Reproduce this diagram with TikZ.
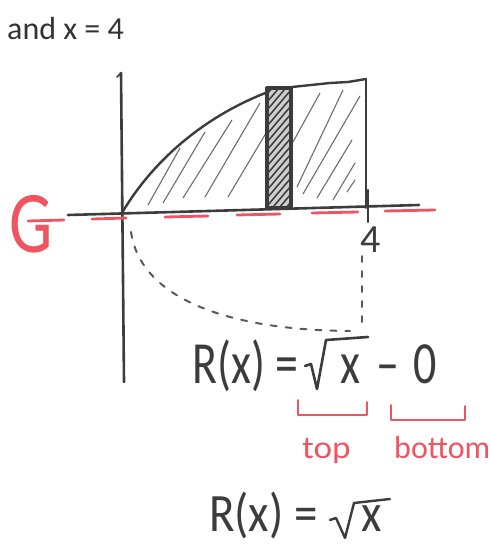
\documentclass[tikz,border=0pt]{standalone}
\usepackage{fontspec}
\setmainfont{Carlito}
\setsansfont{Carlito}
\definecolor{pencil}{HTML}{3C3C3C}
\definecolor{textgrey}{HTML}{333333}
\definecolor{redpen}{HTML}{EE5560}
\begin{document}
\begin{tikzpicture}[x=1pt,y=-1pt,
  pen/.style={draw=pencil,line width=2.6pt,line cap=round,line join=round},
  thinpen/.style={draw=pencil,line width=2pt,line cap=round,line join=round},
  hatch/.style={draw=pencil!75,line width=1.1pt,line cap=round},
  reddash/.style={draw=redpen,line width=2.8pt,line cap=round},
  redpenline/.style={draw=redpen,line width=2pt,line cap=round,line join=round},
  dashcurve/.style={draw=pencil!85,line width=2pt,dash pattern=on 6pt off 9pt,line cap=round},
  handtext/.style={text=pencil,inner sep=0pt},
  bighand/.style={handtext,font=\fontsize{46}{46}\selectfont,yscale=1.3},
  redtext/.style={text=redpen,inner sep=0pt},
]
\useasboundingbox (0,0) rectangle (490,544);
\node[anchor=base west,inner sep=0pt,text=textgrey,font=\fontsize{32}{32}\selectfont] (title) at (7,39) {and x = 4};

% shaded region hatch (left)
\draw[hatch] (148,205) -- (180,148);
\draw[hatch] (163,203) -- (205,132);
\draw[hatch] (183,198) -- (232,120);
\draw[hatch] (205,197) -- (260,103);
\draw[hatch] (228,197) -- (266,133);
% right hatch
\draw[hatch] (293,142) -- (320,93);
\draw[hatch] (297,187) -- (343,90);
\draw[hatch] (303,194) -- (360,96);
\draw[hatch] (317,198) -- (352,140);
\draw[hatch] (333,200) -- (355,163);
\draw[hatch] (347,192) -- (355,180);

% axes
\coordinate (O) at (122,213);
\coordinate (ytop) at (121,73);
\coordinate (ybot) at (124,382);
\coordinate (xl) at (68,215);
\coordinate (xr) at (419,205);
\draw[pen] (ytop) -- (ybot);
\draw[pen] (xl) -- (xr);
\draw[thinpen,line width=1.5pt] (117,77) -- (121,73);

% red dashed line
\foreach \a/\b/\ya/\yb in {28/64/221/220, 92/126/219/218, 165/208/217/216, 237/280/215/214, 312/358/213/212, 385/435/211/210}
  \draw[reddash] (\a,\ya) -- (\b,\yb);
\node[redtext,font=\fontsize{88}{88}\selectfont,anchor=base west,xscale=0.78] (G) at (9,252) {G};

% curve y = sqrt(x)
\coordinate (top1) at (268,92);
\coordinate (topR) at (366,79);
\draw[thinpen,line width=2.4pt] (O) .. controls (150,165) and (200,118) .. (top1) -- (292,87) -- (330,83) -- (348,82) -- (topR);
\draw[thinpen,line width=2pt] (topR) -- (366,208);
\draw[pen] (368,190) -- (368,222);
\node[handtext,font=\fontsize{40}{40}\selectfont] (four) at (371,240) {4};

% representative rectangle
\fill[pencil!25] (267,88) rectangle (291,208);
\begin{scope}
\clip (267,88) rectangle (291,208);
\foreach \k in {0,...,18}
  \draw[pencil,line width=1.5pt] (262,100+8*\k) -- (296,100+8*\k-40);
\end{scope}
\draw[pen,line width=3.2pt] (267,88) rectangle (291,208);

% dashed reflection
\draw[dashcurve] (131,232) .. controls (140,295) and (220,330) .. (350,331);
\draw[dashcurve] (362,322) -- (362,255);

% R(x) = sqrt(x) - 0
\node[bighand,anchor=base west] (eq1a) at (192,383) {R(x) =};
\node[bighand,anchor=base] (eq1x) at (350,383) {x};
\node[bighand,anchor=base] (eq1m) at (388,383) {–};
\node[bighand,anchor=base] (eq1z) at (425,383) {0};
\draw[thinpen,line width=2.6pt] (305,366) -- (311,364) -- (317,389) -- (326,340) -- (368,337);

% red brackets
\draw[redpenline] (298,400) -- (298,415) -- (367,415) -- (367,402);
\draw[redpenline] (391,405) -- (391,420) -- (465,420) -- (465,406);
\node[redtext,anchor=base west,font=\fontsize{32}{32}\selectfont,xscale=1.1] (toplbl) at (302,458) {top};
\node[redtext,anchor=base west,font=\fontsize{32}{32}\selectfont] (botlbl) at (394,458) {bottom};

% R(x) = sqrt(x)
\node[handtext,anchor=base west,font=\fontsize{47}{47}\selectfont,yscale=1.15] (eq2a) at (209,531) {R(x) =};
\node[handtext,anchor=base,font=\fontsize{47}{47}\selectfont,yscale=1.15] (eq2x) at (372,531) {x};
\draw[thinpen,line width=2.4pt] (330,520) -- (336,518) -- (345,538) -- (354,503) -- (390,499);
\end{tikzpicture}
\end{document}
